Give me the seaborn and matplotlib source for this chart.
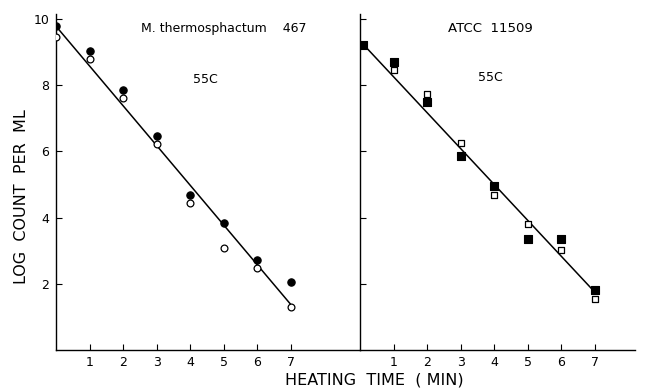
import matplotlib
matplotlib.use("Agg")
import matplotlib.pyplot as plt
import seaborn as sns
import pandas as pd

sns.set_theme(style="ticks")
plt.rcParams['font.family'] = ['DejaVu Sans']
plt.rcParams['text.color'] = 'black'
plt.rcParams['axes.labelcolor'] = 'black'
plt.rcParams['xtick.color'] = 'black'
plt.rcParams['ytick.color'] = 'black'

# ---- data ----
minutes = [0, 1, 2, 3, 4, 5, 6, 7]
left_filled = [9.80, 9.02, 7.85, 6.46, 4.67, 3.84, 2.73, 2.05]
left_open = [9.45, 8.78, 7.60, 6.22, 4.43, 3.09, 2.47, 1.30]
left_line_x = [0, 7]
left_line_y = [9.78, 1.38]

right_filled_x = [0.1, 1, 2, 3, 4, 5, 6, 7]
right_filled = [9.21, 8.71, 7.48, 5.86, 4.96, 3.34, 3.34, 1.82]
right_open_x = [-0.1, 1, 2, 3, 4, 5, 6, 7]
right_open = [9.21, 8.46, 7.73, 6.24, 4.68, 3.82, 3.03, 1.53]
right_line_x = [0.1, 7]
right_line_y = [9.23, 1.75]

left_title = "M. thermosphactum    467"
right_title = "ATCC  11509"
temp_label = "55C"
x_label = "HEATING  TIME  ( MIN)"
y_label = "LOG  COUNT  PER  ML"
xticks = [1, 2, 3, 4, 5, 6, 7]
yticks = [2, 4, 6, 8, 10]

fig = plt.figure(figsize=(6.53, 3.91), dpi=100)
bottom = 0.1049
height = 0.8593
axL = fig.add_axes([0.0858, bottom, 0.5513 - 0.0858, height])
axR = fig.add_axes([0.5513, bottom, 0.9724 - 0.5513, height])

dfL = pd.DataFrame({"x": minutes, "f": left_filled, "o": left_open})
sns.lineplot(x=left_line_x, y=left_line_y, ax=axL, color="black", lw=1.1)
sns.scatterplot(data=dfL, x="x", y="f", ax=axL, color="black", marker="o",
                s=28, edgecolor="black", linewidth=0.8, zorder=3)
sns.scatterplot(data=dfL, x="x", y="o", ax=axL, color="white", marker="o",
                s=24, edgecolor="black", linewidth=0.9, zorder=3)

sns.lineplot(x=right_line_x, y=right_line_y, ax=axR, color="black", lw=1.1)
sns.scatterplot(x=right_filled_x, y=right_filled, ax=axR, color="black", marker="s",
                s=26, edgecolor="black", linewidth=0.8, zorder=3)
sns.scatterplot(x=right_open_x, y=right_open, ax=axR, color="white", marker="s",
                s=24, edgecolor="black", linewidth=0.9, zorder=3)

for ax in (axL, axR):
    ax.set_ylim(0, 10.15)
    ax.set_yticks(yticks)
    ax.set_xticks(xticks)
    ax.set_xticklabels([str(t) for t in xticks])
    ax.tick_params(direction="in", length=4, width=0.8, labelsize=9, colors="black")
    ax.tick_params(axis="x", pad=4)
    for s in ("top", "right"):
        ax.spines[s].set_visible(False)
    for s in ("left", "bottom"):
        ax.spines[s].set_color("black")
        ax.spines[s].set_linewidth(1.0)
    ax.set_xlabel("")
    ax.set_ylabel("")
    ax.set_facecolor("white")

axL.set_xlim(0, 9.07)
axR.set_xlim(0, 8.2)
axL.set_yticklabels([str(t) for t in yticks])
axL.tick_params(axis="y", pad=5)
axR.set_yticklabels([])

axL.text(5.0, 9.71, left_title, ha="center", va="center", fontsize=9)
axL.text(4.45, 8.18, temp_label, ha="center", va="center", fontsize=9)
axR.text(3.88, 9.71, right_title, ha="center", va="center", fontsize=9.5)
axR.text(3.88, 8.24, temp_label, ha="center", va="center", fontsize=9)

fig.text(374 / 653, 1 - 380 / 391, x_label, ha="center", va="center",
         fontsize=11.5)
fig.text(22 / 653, 1 - 197 / 391, y_label, ha="center", va="center",
         rotation=90, fontsize=11.5)

fig.savefig("out.png", dpi=100, facecolor="white")
